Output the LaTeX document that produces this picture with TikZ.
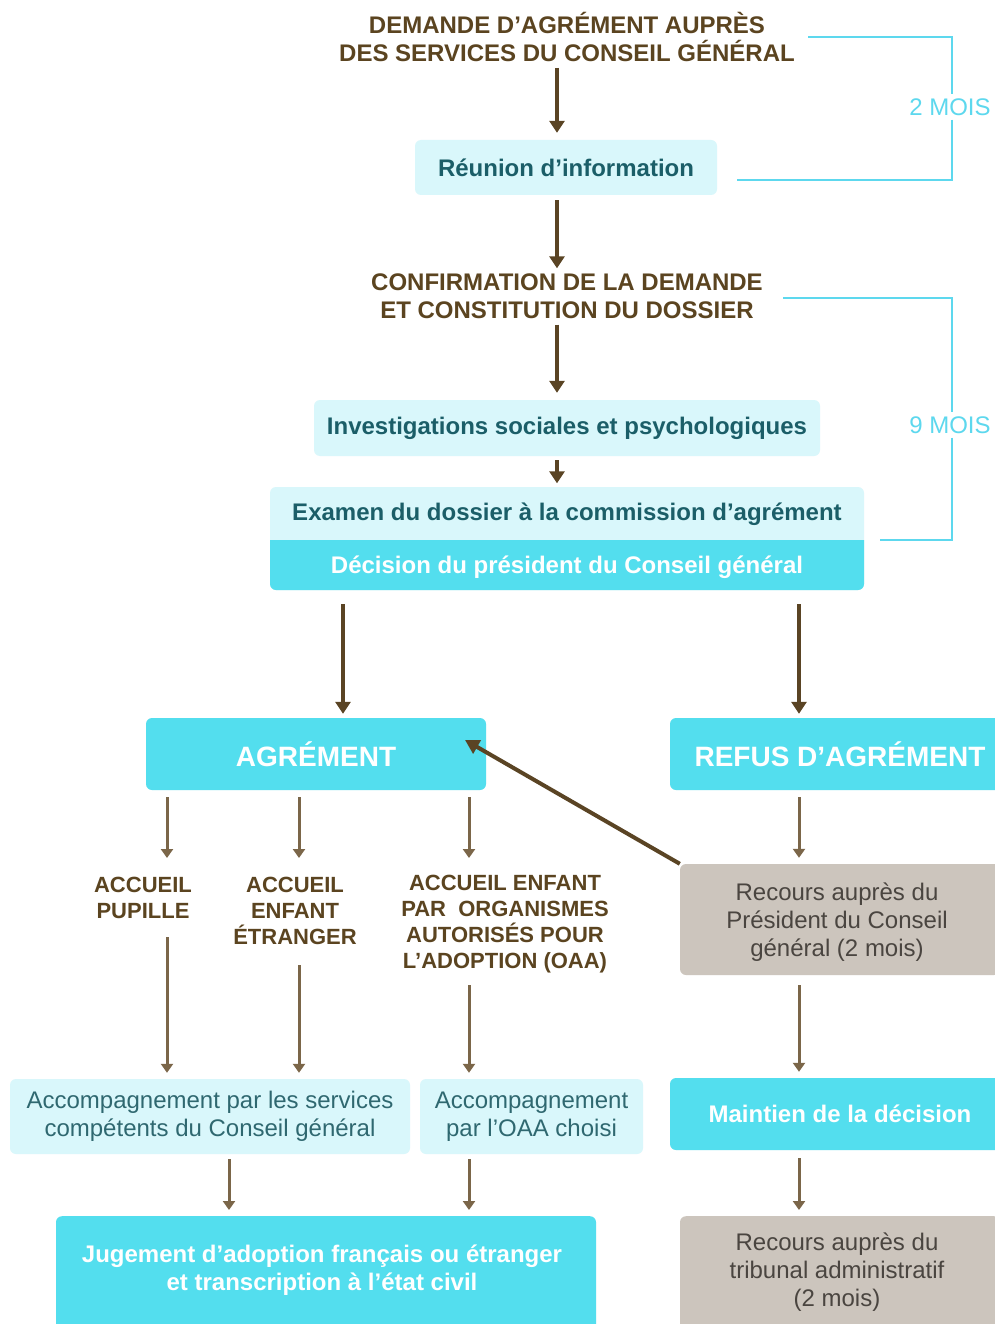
\documentclass[tikz,border=0pt]{standalone}
\usepackage{fontspec}
\setmainfont{Liberation Sans}
\usetikzlibrary{arrows.meta,calc}
\definecolor{brownT}{HTML}{5B4420}
\definecolor{arrD}{HTML}{5A4424}
\definecolor{arrL}{HTML}{7B6649}
\definecolor{lcyan}{HTML}{D9F7FB}
\definecolor{tealT}{HTML}{1B5E68}
\definecolor{tealR}{HTML}{2F6870}
\definecolor{cyanB}{HTML}{53DEEE}
\definecolor{greyB}{HTML}{CCC5BD}
\definecolor{greyT}{HTML}{4A4540}
\definecolor{brC}{HTML}{5DD8EE}
\begin{document}
\begin{tikzpicture}[x=1pt,y=-1pt,
  thickarr/.style={draw=arrD, line width=4pt, -{Triangle[width=15pt,length=12pt]}},
  thinarr/.style={draw=arrL, line width=3pt, -{Triangle[width=12pt,length=9pt]}},
  lbox/.style={fill=lcyan, rounded corners=6pt, inner sep=0pt, text=tealT, font=\bfseries\fontsize{24}{28}\selectfont, align=center},
  lboxr/.style={fill=lcyan, rounded corners=6pt, inner sep=0pt, text=tealR, font=\fontsize{24}{28}\selectfont, align=center},
  cbox/.style={fill=cyanB, rounded corners=6pt, inner sep=0pt, text=white, font=\bfseries\fontsize{24}{28}\selectfont, align=center},
  bigc/.style={cbox, font=\bfseries\fontsize{28}{32}\selectfont},
  gbox/.style={fill=greyB, rounded corners=6pt, inner sep=0pt, text=greyT, font=\fontsize{24}{28}\selectfont, align=center},
  ttl/.style={text=brownT, font=\bfseries\fontsize{24}{28}\selectfont, align=center, inner sep=0pt},
  acc/.style={text=brownT, font=\bfseries\fontsize{22}{26}\selectfont, align=center, inner sep=0pt},
  br/.style={draw=brC, line width=2pt},
  mois/.style={text=brC, font=\fontsize{24}{28}\selectfont, inner sep=0pt}
]
\clip (0,0) rectangle (995,1324);
\fill[white] (0,0) rectangle (995,1324);

% column coordinates
\coordinate (ax) at (557,0);
\coordinate (c1) at (167,0);
\coordinate (c2) at (299,0);
\coordinate (c3) at (469,0);
\coordinate (c4) at (229,0);
\coordinate (cl) at (343,0);
\coordinate (cr) at (799,0);

% top part
\node[ttl] (t1) at (567,37) {DEMANDE D’AGRÉMENT AUPRÈS\\DES SERVICES DU CONSEIL GÉNÉRAL};
\node[lbox, minimum width=302pt, minimum height=55pt] (reu) at (566,167.5) {Réunion d’information};
\node[ttl] (t2) at (567,296) {CONFIRMATION DE LA DEMANDE\\ET CONSTITUTION DU DOSSIER};
\node[lbox, minimum width=506pt, minimum height=56pt] (inv) at (567,428) {Investigations sociales et psychologiques};

\fill[lcyan, rounded corners=6pt] (270,487) rectangle (864,590);
\fill[cyanB] (270,540) -- (864,540) {[rounded corners=6pt] -- (864,590) -- (270,590)} -- cycle;
\node[text=tealT, font=\bfseries\fontsize{24}{28}\selectfont, minimum width=594pt, minimum height=53pt, inner sep=0pt] (exa) at (567,514) {Examen du dossier à la commission d’agrément};
\node[text=white, font=\bfseries\fontsize{24}{28}\selectfont, minimum width=594pt, minimum height=50pt, inner sep=0pt] (dec) at (567,567) {Décision du président du Conseil général};

\draw[thickarr, shorten <=6pt, shorten >=7pt] (t1.south -| ax) -- (reu.north -| ax);
\draw[thickarr, shorten <=5pt, shorten >=5pt] (reu.south -| ax) -- (t2.north -| ax);
\draw[thickarr, shorten <=6pt, shorten >=7pt] (t2.south -| ax) -- (inv.north -| ax);
\draw[thickarr, shorten <=4pt, shorten >=4pt] (inv.south -| ax) -- (exa.north -| ax);

% brackets
\node[mois] (m2) at (950,107) {2 MOIS};
\node[mois] (m9) at (950,425) {9 MOIS};
\coordinate (b1s) at (808,37);
\coordinate (b1e) at (737,180);
\coordinate (b2s) at (783,298);
\coordinate (b2e) at (880,540);
\draw[br] (b1s) -- (952,37) -- ([yshift=4pt]m2.north -| 952,0);
\draw[br] ([yshift=-4pt]m2.south -| 952,0) -- (952,180) -- (b1e);
\draw[br] (b2s) -- (952,298) -- ([yshift=4pt]m9.north -| 952,0);
\draw[br] ([yshift=-4pt]m9.south -| 952,0) -- (952,540) -- (b2e);

% decision level
\node[bigc, minimum width=340pt, minimum height=72pt] (agr) at (316,754) {AGRÉMENT};
\node[bigc, minimum width=340pt, minimum height=72pt] (ref) at (840,754) {REFUS D’AGRÉMENT};
\draw[thickarr, shorten <=12pt, shorten >=4pt] (dec.south -| cl) -- (agr.north -| cl);
\draw[thickarr, shorten <=12pt, shorten >=4pt] (dec.south -| cr) -- (ref.north -| cr);

% accueil labels
\node[acc] (a1) at (143,898) {ACCUEIL\\PUPILLE};
\node[acc] (a2) at (295,911) {ACCUEIL\\ENFANT\\ÉTRANGER};
\node[acc] (a3) at (505,924) {ACCUEIL ENFANT\\PAR~ ORGANISMES\\AUTORISÉS POUR\\L’ADOPTION (OAA)};

\coordinate (l1) at (167,858);
\coordinate (l2) at (299,858);
\coordinate (l3) at (469,858);
\draw[thinarr, shorten <=7pt] (agr.south -| c1) -- (l1);
\draw[thinarr, shorten <=7pt] (agr.south -| c2) -- (l2);
\draw[thinarr, shorten <=7pt] (agr.south -| c3) -- (l3);

% accompagnement
\node[lboxr, minimum width=400pt, minimum height=75pt] (ac1) at (210,1116.5) {Accompagnement par les services\\compétents du Conseil général};
\node[lboxr, minimum width=223pt, minimum height=75pt] (ac2) at (531.5,1116.5) {Accompagnement\\par l’OAA choisi};

\coordinate (s1) at (167,937);
\coordinate (s2) at (299,965);
\coordinate (s3) at (469,985);
\draw[thinarr, shorten >=6pt] (s1) -- (ac1.north -| c1);
\draw[thinarr, shorten >=6pt] (s2) -- (ac1.north -| c2);
\draw[thinarr, shorten >=6pt] (s3) -- (ac2.north -| c3);

% jugement
\node[cbox, minimum width=540pt, minimum height=130pt, anchor=north] (jug) at (326,1216) {};
\node[text=white, font=\bfseries\fontsize{24}{28}\selectfont, align=center, inner sep=0pt] (jugt) at (322,1270) {Jugement d’adoption français ou étranger\\et transcription à l’état civil};
\draw[thinarr, shorten <=5pt, shorten >=6pt] (ac1.south -| c4) -- (jug.north -| c4);
\draw[thinarr, shorten <=5pt, shorten >=6pt] (ac2.south -| c3) -- (jug.north -| c3);

% right column
\node[gbox, minimum width=320pt, minimum height=111pt] (rc1) at (840,919.5) {};
\node[text=greyT, font=\fontsize{24}{28}\selectfont, align=center, inner sep=0pt] (rc1t) at (837,922) {Recours auprès du\\Président du Conseil\\général (2 mois)};
\node[cbox, minimum width=340pt, minimum height=72pt] (mnt) at (840,1114) {Maintien de la décision};
\node[gbox, minimum width=320pt, minimum height=130pt, anchor=north] (rc2) at (840,1216) {};
\node[text=greyT, font=\fontsize{24}{28}\selectfont, align=center, inner sep=0pt] (rc2t) at (837,1272) {Recours auprès du\\tribunal administratif\\(2 mois)};

\draw[thinarr, shorten <=7pt, shorten >=6pt] (ref.south -| cr) -- (rc1.north -| cr);
\draw[thinarr, shorten <=10pt, shorten >=6pt] (rc1.south -| cr) -- (mnt.north -| cr);
\draw[thinarr, shorten <=8pt, shorten >=6pt] (mnt.south -| cr) -- (rc2.north -| cr);

\coordinate (agtip) at (465,740);
\draw[thickarr, -{Triangle[width=15pt,length=14pt]}] (rc1.north west) -- (agtip);
\end{tikzpicture}
\end{document}
